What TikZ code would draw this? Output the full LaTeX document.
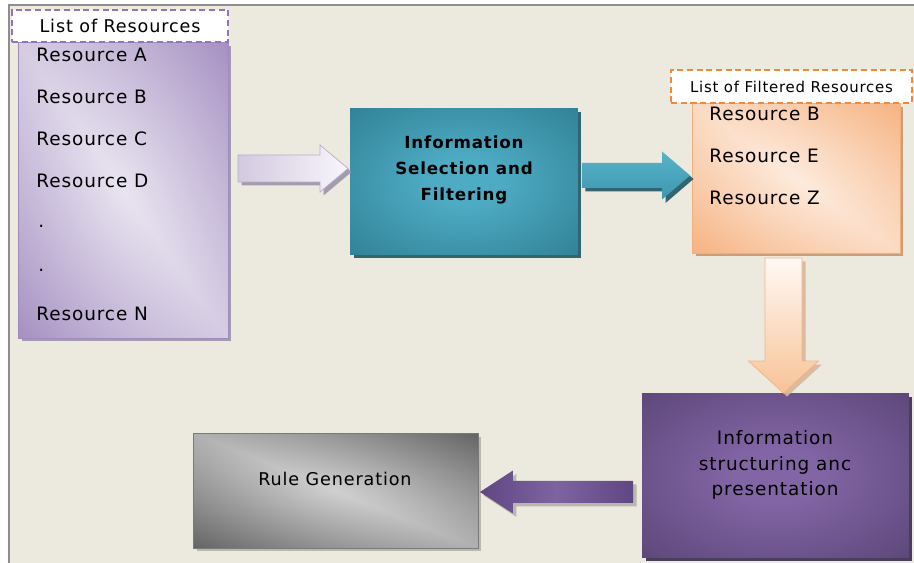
\documentclass[tikz,border=0pt]{standalone}
\usepackage{fontspec}
\setsansfont[LetterSpace=5]{DejaVu Sans}
\usetikzlibrary{shadows,calc}

\definecolor{bgbeige}{HTML}{ECE9DF}
\definecolor{framegray}{HTML}{8E8E8E}
\definecolor{lavin}{HTML}{E9E4F0}
\definecolor{lavout}{HTML}{A590C2}
\definecolor{lavedge}{HTML}{A08CBC}
\definecolor{lavshadow}{HTML}{9D93AA}
\definecolor{lavdash}{HTML}{9274B8}
\definecolor{tealin}{HTML}{4DABC3}
\definecolor{tealout}{HTML}{2F7E92}
\definecolor{tealshadow}{HTML}{1F5766}
\definecolor{orangein}{HTML}{FDEBDD}
\definecolor{orangeout}{HTML}{F6B281}
\definecolor{orangeedge}{HTML}{F4AE7A}
\definecolor{orangeshadow}{HTML}{C8956F}
\definecolor{orangedash}{HTML}{F08A3A}
\definecolor{purplein}{HTML}{8265A5}
\definecolor{purpleout}{HTML}{5A4576}
\definecolor{purpleshadow}{HTML}{3A2C4E}
\definecolor{grayin}{HTML}{D0D0D0}
\definecolor{grayout}{HTML}{646464}
\definecolor{grayedge}{HTML}{7A7A7A}
\definecolor{grayshadow}{HTML}{B5B2AA}
\definecolor{arrlavleft}{HTML}{D3C9E0}
\definecolor{arrlavright}{HTML}{F8F6FA}
\definecolor{arrlavedge}{HTML}{B9ACCD}
\definecolor{arrtealtop}{HTML}{58B3CA}
\definecolor{arrtealbot}{HTML}{3C97AF}
\definecolor{arrpeachtop}{HTML}{FFF9F4}
\definecolor{arrpeachbot}{HTML}{F8C397}
\definecolor{arrpeachedge}{HTML}{F3B487}
\definecolor{arrpurpmid}{HTML}{7E63A1}
\definecolor{arrpurpend}{HTML}{5F4783}

\colorlet{glowin}{white}
\colorlet{glowout}{black}
\pgfdeclareradialshading[glowin,glowout]{boxglow}{\pgfpoint{0bp}{0bp}}{%
  color(0bp)=(glowin); color(8bp)=(glowin); color(38bp)=(glowout); color(50bp)=(glowout)}
% light along the top-left/bottom-right diagonal, dark in the other two corners
\pgfdeclarefunctionalshading[glowin,glowout]{boxband}%
  {\pgfpoint{-50bp}{-50bp}}{\pgfpoint{50bp}{50bp}}%
  {\pgfshadecolortorgb{glowin}{\ci}\pgfshadecolortorgb{glowout}{\co}}%
  {2 copy dup mul exch dup mul add sqrt 35.36 div 0.3 mul
   3 1 roll add abs 50 div 0.7 mul add
   dup \cored\space \cired\space sub mul \cired\space add
   exch dup \cogreen\space \cigreen\space sub mul \cigreen\space add
   exch \coblue\space \ciblue\space sub mul \ciblue\space add}

\newcommand{\itemfont}{\sffamily\fontsize{10.5}{12}\selectfont}
\newcommand{\headfont}{\sffamily\fontsize{10}{12}\selectfont}
\newcommand{\smallheadfont}{\sffamily\fontsize{8.5}{10}\selectfont}
\newcommand{\selfont}{\sffamily\bfseries\fontsize{9.5}{14.7}\selectfont}
\newcommand{\structfont}{\sffamily\fontsize{10.5}{14.7}\selectfont}

\begin{document}
\begin{tikzpicture}[
    frame/.style={draw=framegray, line width=1.1pt, fill=bgbeige},
    box/.style={rectangle, inner sep=0pt, outer sep=0pt},
    boxshadow/.style={drop shadow={shadow xshift=0.07cm, shadow yshift=-0.07cm,
      fill=#1, opacity=0.9}},
    glow/.style 2 args={shade, shading=boxglow,
      /utils/exec={\colorlet{glowin}{#1}\colorlet{glowout}{#2}}},
    band/.style 2 args={shade, shading=boxband,
      /utils/exec={\colorlet{glowin}{#1}\colorlet{glowout}{#2}}},
    header/.style={box, draw=#1, line width=0.9pt, dash pattern=on 3.5pt off 2pt,
      fill=white},
    listitem/.style={anchor=west, inner sep=0pt, font=\itemfont},
    lavarrow/.style={draw=arrlavedge, line width=0.4pt, left color=arrlavleft,
      right color=arrlavright, boxshadow=lavshadow},
    tealarrow/.style={top color=arrtealtop, bottom color=arrtealbot,
      boxshadow=tealshadow},
    peacharrow/.style={draw=arrpeachedge, line width=0.4pt, top color=arrpeachtop,
      bottom color=arrpeachbot, boxshadow=orangeshadow!70},
    purparrow/.style={left color=arrpurpend, right color=arrpurpend,
      middle color=arrpurpmid, boxshadow=grayshadow},
  ]
  \pgfsetxvec{\pgfpoint{0.02cm}{0}}
  \pgfsetyvec{\pgfpoint{0}{-0.02cm}}

  \useasboundingbox[fill=white] (0,0) rectangle (914,563);
  \draw[frame] (9,5) rectangle (922,572);

  % list of all resources
  \node[box, minimum width=4.2cm, minimum height=5.92cm, band={lavin}{lavout},
    draw=lavedge, line width=0.4pt, boxshadow=lavshadow] (reslist) at (123,190) {};
  \node[header=lavdash, minimum width=4.32cm, minimum height=0.64cm, font=\headfont]
    (reshead) at (120,26) {List of Resources};
  \foreach \r/\y in {A/55,B/97,C/139,D/181,N/314} {
    \node[listitem] (res\r) at (36,\y) {Resource \r};
  }
  \foreach \d/\y in {1/226,2/270} {
    \node[listitem] (dot\d) at (38,\y) {.};
  }

  % selection step
  \node[box, minimum width=4.56cm, minimum height=2.94cm, glow={tealin}{tealout},
    boxshadow=tealshadow] (sel) at (464,181.5) {};
  \node[align=center, font=\selfont] (seltext) at (464,170)
    {Information\\Selection and\\Filtering};

  % filtered resources
  \node[box, minimum width=4.16cm, minimum height=3cm, band={orangein}{orangeout},
    draw=orangeedge, line width=0.4pt, boxshadow=orangeshadow] (filt) at (796,178) {};
  \node[header=orangedash, minimum width=4.82cm, minimum height=0.66cm,
    font=\smallheadfont] (filthead) at (791.5,86.5) {List of Filtered Resources};
  \foreach \r/\y in {B/114,E/156,Z/198} {
    \node[listitem] (filt\r) at (709,\y) {Resource \r};
  }

  % structuring step
  \node[box, minimum width=5.34cm, minimum height=3.3cm, glow={purplein}{purpleout},
    boxshadow=purpleshadow] (struct) at (775.5,475.5) {};
  \node[align=center, font=\structfont] (structtext) at (775,465)
    {Information\\structuring anc\\presentation};

  % rule generation
  \node[box, minimum width=5.7cm, minimum height=2.3cm, band={grayin}{grayout},
    draw=grayedge, line width=0.4pt, boxshadow=grayshadow] (rule) at (335.5,490.5) {};
  \node[font=\headfont] (ruletext) at (335,479) {Rule Generation};

  % block arrows
  \coordinate (a1tail) at (238,168.5);
  \coordinate (a1tip) at ($(sel.west |- a1tail)+(-2,0)$);
  \path[lavarrow] ($(a1tail)+(0,-13.5)$) -- ($(a1tip)+(-28,-13.5)$)
    -- ($(a1tip)+(-28,-23.5)$) -- (a1tip) -- ($(a1tip)+(-28,23.5)$)
    -- ($(a1tip)+(-28,13.5)$) -- ($(a1tail)+(0,13.5)$) -- cycle;

  \coordinate (a2tail) at ($(sel.east |- 0,175.5)+(4,0)$);
  \coordinate (a2tip) at ($(filt.west |- a2tail)+(-2,0)$);
  \path[tealarrow] ($(a2tail)+(0,-12.5)$) -- ($(a2tip)+(-28,-12.5)$)
    -- ($(a2tip)+(-28,-24)$) -- (a2tip) -- ($(a2tip)+(-28,24)$)
    -- ($(a2tip)+(-28,12.5)$) -- ($(a2tail)+(0,12.5)$) -- cycle;

  \coordinate (a3tail) at ($(filt.south -| 783.5,0)+(0,5)$);
  \coordinate (a3tip) at (a3tail |- struct.north);
  \path[peacharrow] ($(a3tail)+(-18.5,0)$) -- ($(a3tip)+(-18.5,-32)$)
    -- ($(a3tip)+(-35,-32)$) -- (a3tip) -- ($(a3tip)+(35,-32)$)
    -- ($(a3tip)+(18.5,-32)$) -- ($(a3tail)+(18.5,0)$) -- cycle;

  \coordinate (a4tail) at ($(struct.west |- 0,492)+(-9,0)$);
  \coordinate (a4tip) at ($(rule.east |- a4tail)+(2,0)$);
  \path[purparrow] ($(a4tail)+(0,-11)$) -- ($(a4tip)+(33,-11)$)
    -- ($(a4tip)+(33,-21.5)$) -- (a4tip) -- ($(a4tip)+(33,21.5)$)
    -- ($(a4tip)+(33,11)$) -- ($(a4tail)+(0,11)$) -- cycle;
\end{tikzpicture}
\end{document}
